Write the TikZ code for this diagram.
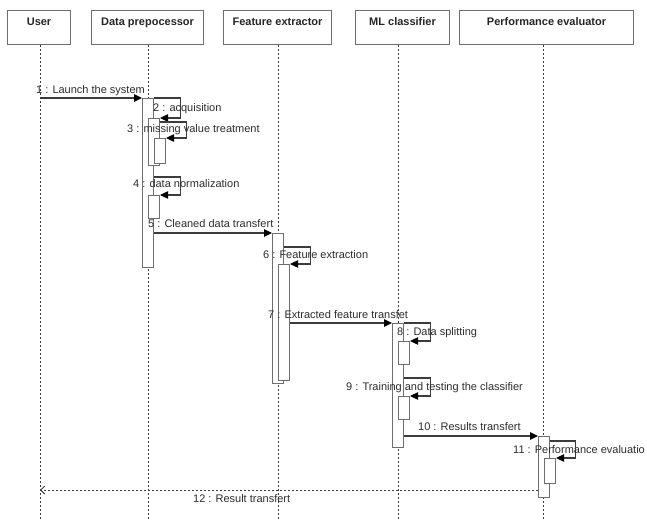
\documentclass[tikz,border=0pt]{standalone}
\usepackage{fontspec}
\setmainfont{Liberation Sans}
\usetikzlibrary{arrows.meta}
\definecolor{boxc}{RGB}{110,110,110}
\definecolor{linec}{RGB}{60,60,60}
\definecolor{txtc}{RGB}{45,45,45}
\begin{document}
\begin{tikzpicture}[x=1pt,y=-1pt,
 hdr/.style={draw=boxc, line width=1.1pt, fill=white, inner sep=0pt, minimum height=34pt,
   text height=15pt, text depth=19pt, anchor=north west,
   font=\fontsize{11}{13}\selectfont\bfseries, text=black!85},
 bar/.style={draw=boxc, line width=1.1pt, fill=white, inner sep=0pt, minimum width=11pt, anchor=north west},
 life/.style={draw=linec, line width=0.8pt, dash pattern=on 2pt off 2pt},
 msg/.style={draw=linec, line width=1.1pt, -{Triangle[length=8pt,width=7.5pt,color=black,fill=black]}},
 ret/.style={draw=linec, line width=0.9pt, dash pattern=on 2pt off 2pt, -{Straight Barb[length=4pt,width=8pt]}},
 lbl/.style={anchor=base west, inner sep=0pt, font=\fontsize{11}{13}\selectfont, text=txtc}]
\fill[white] (0,0) rectangle (647,521);
\useasboundingbox (0,0) rectangle (647,521);
% headers
\node[hdr, minimum width=63pt] (user) at (7,10) {User};
\node[hdr, minimum width=112pt] (dp) at (91,10) {Data prepocessor};
\node[hdr, minimum width=108pt] (fe) at (223,10) {Feature extractor};
\node[hdr, minimum width=94pt] (ml) at (355,10) {ML classifier};
\node[hdr, minimum width=174pt] (pe) at (459,10) {Performance evaluator};
% lifelines
\coordinate (userEnd) at (40,521);
\coordinate (dpEnd) at (148,521);
\coordinate (feEnd) at (278,521);
\coordinate (mlEnd) at (398,521);
\coordinate (peEnd) at (543,521);
\draw[life] (user.south -| userEnd) -- (userEnd);
\draw[life] (dp.south -| dpEnd) -- (dpEnd);
\draw[life] (fe.south -| feEnd) -- (feEnd);
\draw[life] (ml.south -| mlEnd) -- (mlEnd);
\draw[life] (pe.south -| peEnd) -- (peEnd);
% activation bars
\node[bar, minimum height=169pt] (A) at (142,98) {};
\node[bar, minimum height=47pt] (A2) at (148,118) {};
\node[bar, minimum height=25pt] (A3) at (154,138) {};
\node[bar, minimum height=23pt] (A4) at (148,195) {};
\node[bar, minimum height=150pt] (F) at (272,233) {};
\node[bar, minimum height=116pt] (F6) at (278,264) {};
\node[bar, minimum height=124pt] (M) at (392,323) {};
\node[bar, minimum height=23pt] (M8) at (398,341) {};
\node[bar, minimum height=23pt] (M9) at (398,396) {};
\node[bar, minimum height=61pt] (P) at (538,436) {};
\node[bar, minimum height=25pt] (P11) at (544,458) {};
% messages
\draw[msg] (userEnd |- A.north) -- (A.north west);
\draw[msg] (A.north east) -- ++(26,0) |- (A2.north east);
\draw[msg] ([yshift=-4pt]A2.north east) -- ++(26,0) |- (A3.north east);
\draw[msg] ([yshift=-79pt]A.north east) -- ++(26,0) |- (A4.north east);
\draw[msg] (A.east |- F.north) -- (F.north west);
\draw[msg] ([yshift=-14pt]F.north east) -- ++(26,0) |- (F6.north east);
\draw[msg] (F6.east |- M.north) -- (M.north west);
\draw[msg] (M.north east) -- ++(26,0) |- (M8.north east);
\draw[msg] ([yshift=-55pt]M.north east) -- ++(26,0) |- (M9.north east);
\draw[msg] (M.east |- P.north) -- (P.north west);
\draw[msg] ([yshift=-5pt]P.north east) -- ++(25,0) |- (P11.north east);
\coordinate (r12) at ([yshift=-54pt]P.north west);
\draw[ret] (r12) -- (userEnd |- r12);
% labels
\node[lbl] (l1) at (36,94) {1 : Launch the system};
\node[lbl] (l2) at (153,112) {2 : acquisition};
\node[lbl] (l3) at (127,133) {3 : missing value treatment};
\node[lbl] (l4) at (133,188) {4 : data normalization};
\node[lbl] (l5) at (148,228) {5 : Cleaned data transfert};
\node[lbl] (l6) at (263,258) {6 : Feature extraction};
\node[lbl] (l7) at (268,318) {7 : Extracted feature transfet};
\node[lbl] (l8) at (397,335) {8 : Data splitting};
\node[lbl] (l9) at (346,390) {9 : Training and testing the classifier};
\node[lbl] (l10) at (418,430) {10 : Results transfert};
\node[lbl] (l11) at (513,453) {11 : Performance evaluatio};
\node[lbl] (l12) at (193,502) {12 : Result transfert};
\end{tikzpicture}
\end{document}
